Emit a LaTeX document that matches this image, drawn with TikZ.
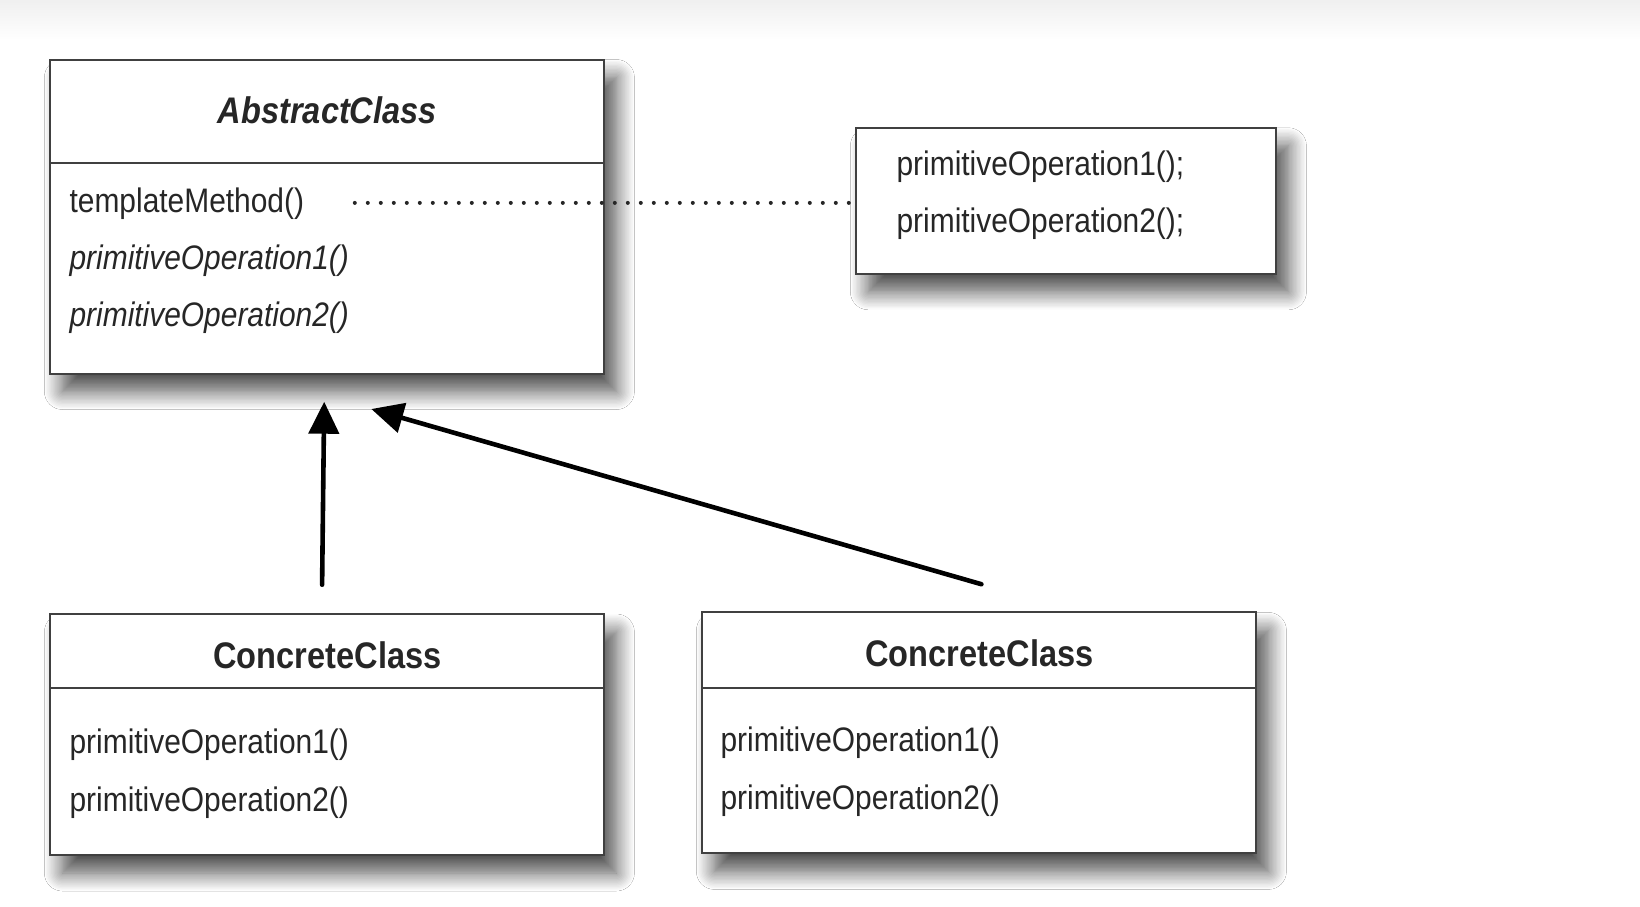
\documentclass[tikz,border=0pt]{standalone}
\usepackage{fontspec}
\setmainfont{Liberation Sans}[FakeStretch=0.88]
\usetikzlibrary{arrows.meta,positioning,shadows.blur}
\definecolor{boxline}{gray}{0.25}
\definecolor{txt}{gray}{0.15}

\begin{document}
\begin{tikzpicture}[
  x=0.5pt, y=-0.5pt,
  cls/.style={draw=boxline, line width=1pt, fill=white, minimum width=277pt, inner sep=0pt,
    blur shadow={shadow xshift=6pt, shadow yshift=-9pt, shadow blur radius=9pt, shadow blur steps=14, shadow opacity=70}},
  ttl/.style={font=\fontsize{18.5}{20}\selectfont\bfseries, text=txt, inner sep=0pt},
  op/.style={font=\fontsize{17}{19}\selectfont, text=txt, inner sep=0pt, anchor=west},
  div/.style={draw=boxline, line width=1pt},
  arr/.style={-{Triangle[length=16pt, width=15pt]}, line width=2.3pt, line cap=round},
  dots/.style={draw=txt, line width=2pt, line cap=round, dash pattern=on 0pt off 6.5pt}
]
\useasboundingbox (0,0) rectangle (1640,906);
\fill[white] (0,0) rectangle (1640,906);
\shade[top color=black!6, bottom color=white] (0,0) rectangle (1640,40);

% abstract class
\node[cls, minimum height=157pt] (abs) at (327.4,216.5) {};
\node[ttl] (absname) at ([yshift=-25.65pt]abs.north) {\itshape AbstractClass};
\draw[div] ([yshift=-52.3pt]abs.north west) -- ([yshift=-52.3pt]abs.north east);
\node[op] (tm) at ([xshift=9.9pt, yshift=-72.7pt]abs.north west) {templateMethod()};
\node[op] (aop1) at ([xshift=9.9pt, yshift=-100.95pt]abs.north west) {\itshape primitiveOperation1()};
\node[op] (aop2) at ([xshift=9.9pt, yshift=-129.7pt]abs.north west) {\itshape primitiveOperation2()};

% note
\node[cls, minimum width=210pt, minimum height=73pt, right=125pt of abs, yshift=7.85pt] (note) {};
\node[op] (nop1) at ([xshift=20.4pt, yshift=-19.85pt]note.north west) {primitiveOperation1();};
\node[op] (nop2) at ([xshift=20.4pt, yshift=-48.65pt]note.north west) {primitiveOperation2();};
\coordinate (dotstart) at ([xshift=152.7pt, yshift=-72.2pt]abs.north west);
\draw[dots] (dotstart) -- (dotstart -| note.west);

% concrete classes
\node[cls, minimum height=120.5pt, below=119.25pt of abs] (cc1) {};
\node[ttl] (cc1name) at ([yshift=-20.9pt]cc1.north) {ConcreteClass};
\draw[div] ([yshift=-37.65pt]cc1.north west) -- ([yshift=-37.65pt]cc1.north east);
\node[op] (cop1) at ([xshift=9.9pt, yshift=-65.85pt]cc1.north west) {primitiveOperation1()};
\node[op] (cop2) at ([xshift=9.9pt, yshift=-94.65pt]cc1.north west) {primitiveOperation2()};

\node[cls, minimum height=120.5pt, right=48pt of cc1, yshift=0.8pt] (cc2) {};
\node[ttl] (cc2name) at ([yshift=-20.9pt]cc2.north) {ConcreteClass};
\draw[div] ([yshift=-38.1pt]cc2.north west) -- ([yshift=-38.1pt]cc2.north east);
\node[op] (dop1) at ([xshift=9.4pt, yshift=-65.85pt]cc2.north west) {primitiveOperation1()};
\node[op] (dop2) at ([xshift=9.4pt, yshift=-94.65pt]cc2.north west) {primitiveOperation2()};

% inheritance
\draw[arr] ([xshift=-2.65pt, yshift=14.15pt]cc1.north) -- ([xshift=-1.6pt, yshift=-13.6pt]abs.south);
\draw[arr] ([xshift=1pt, yshift=13.6pt]cc2.north) -- ([xshift=21.95pt, yshift=-17.25pt]abs.south);
\end{tikzpicture}
\end{document}
